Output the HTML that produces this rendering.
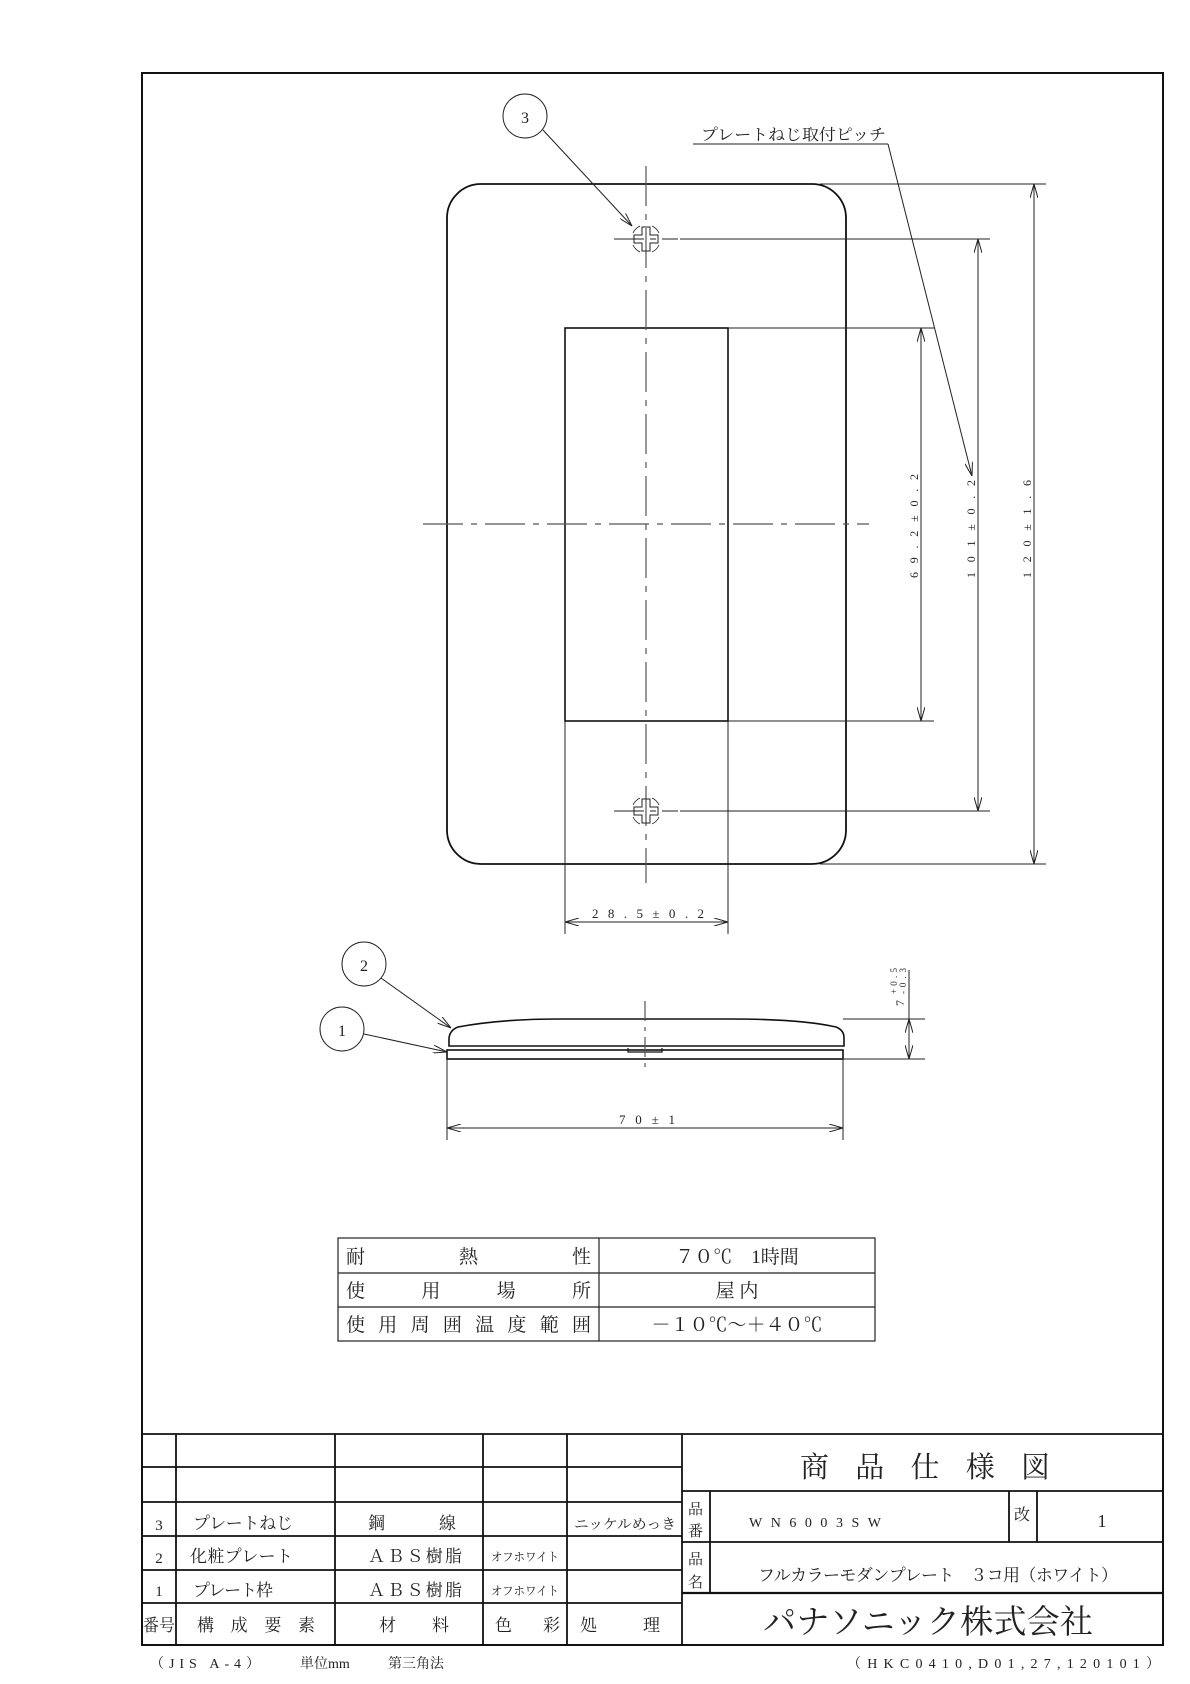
<!DOCTYPE html>
<html><head><meta charset="utf-8"><style>
html,body{margin:0;padding:0;background:#fff}
svg{display:block}
text{font-family:"Liberation Serif","Noto Serif CJK SC","Noto Sans CJK JP",serif;fill:#222}
</style></head><body>
<svg width="1190" height="1684" viewBox="0 0 1190 1684" xmlns="http://www.w3.org/2000/svg">
<defs>
<marker id="a" viewBox="0 0 14 8" refX="14" refY="4" markerWidth="14" markerHeight="8" markerUnits="userSpaceOnUse" orient="auto"><path d="M0,0 L14,4 L0,8" fill="none" stroke="#222" stroke-width="1"/></marker>
<marker id="s" viewBox="0 0 14 8" refX="0" refY="4" markerWidth="14" markerHeight="8" markerUnits="userSpaceOnUse" orient="auto"><path d="M14,0 L0,4 L14,8" fill="none" stroke="#222" stroke-width="1"/></marker>
<g id="screw" fill="none" stroke="#222" stroke-width="1">
<path d="M-4,-12 H4 V-4 H12 V4 H4 V12 H-4 V4 H-12 V-4 H-4 Z"/>
<path d="M-13,-6 A14,14 0 0 1 -6,-13 M6,-13 A14,14 0 0 1 13,-6 M13,6 A14,14 0 0 1 6,13 M-6,13 A14,14 0 0 1 -13,6" stroke-width="0.8"/>
</g>
</defs>
<rect x="142" y="73" width="1021" height="1572" fill="none" stroke="#111" stroke-width="2"/>

<g fill="none" stroke="#111">
<rect x="447" y="184" width="399" height="680" rx="34" ry="34" stroke-width="1.8"/>
<rect x="565" y="328" width="163" height="393" stroke-width="1.6"/>
</g>
<g stroke="#555" stroke-width="1.2" stroke-dasharray="40,8,6,8">
<line x1="646" y1="166" x2="646" y2="883"/>
<line x1="423" y1="524" x2="869" y2="524"/>
</g>
<use href="#screw" x="646" y="239"/>
<use href="#screw" x="646" y="811"/>
<g stroke="#222" stroke-width="1" fill="none">
<line x1="614" y1="239" x2="678" y2="239" stroke-dasharray="30,6,6,6"/>
<line x1="614" y1="811" x2="678" y2="811" stroke-dasharray="30,6,6,6"/>
<line x1="728" y1="328" x2="934" y2="328"/>
<line x1="728" y1="721" x2="934" y2="721"/>
<line x1="680" y1="239" x2="990" y2="239"/>
<line x1="680" y1="811" x2="990" y2="811"/>
<line x1="820" y1="184" x2="1046" y2="184"/>
<line x1="820" y1="864" x2="1046" y2="864"/>
<line x1="921" y1="328" x2="921" y2="721" marker-start="url(#s)" marker-end="url(#a)"/>
<line x1="978" y1="239" x2="978" y2="811" marker-start="url(#s)" marker-end="url(#a)"/>
<line x1="1034" y1="184" x2="1034" y2="864" marker-start="url(#s)" marker-end="url(#a)"/>
<line x1="565" y1="721" x2="565" y2="934"/>
<line x1="728" y1="721" x2="728" y2="934"/>
<line x1="565" y1="922" x2="728" y2="922" marker-start="url(#s)" marker-end="url(#a)"/>
<circle cx="525" cy="116" r="22"/>
<line x1="543" y1="130" x2="632" y2="226" marker-end="url(#a)"/>
<line x1="693" y1="144" x2="888" y2="144"/>
<line x1="888" y1="144" x2="972" y2="476" marker-end="url(#a)"/>
</g>
<text x="701" y="140" font-size="16" textLength="185" lengthAdjust="spacingAndGlyphs">プレートねじ取付ピッチ</text>
<text transform="translate(918,578) rotate(-90)" font-size="12" textLength="104" lengthAdjust="spacing">69.2±0.2</text>
<text transform="translate(975,578) rotate(-90)" font-size="12" textLength="98" lengthAdjust="spacing">101±0.2</text>
<text transform="translate(1031,578) rotate(-90)" font-size="12" textLength="98" lengthAdjust="spacing">120±1.6</text>
<text x="592" y="918" font-size="13" textLength="112" lengthAdjust="spacing">28.5±0.2</text>
<text x="525" y="123" font-size="16" text-anchor="middle">3</text>

<g fill="none" stroke="#111" stroke-width="1.6">
<path d="M449,1046 L449,1038 Q450,1030 458,1027 Q500,1019 560,1019 L730,1019 Q800,1019 836,1027 Q844,1030 844,1038 L844,1046 Z"/>
<rect x="447" y="1050" width="396" height="9"/>
<path d="M628,1048 V1052 H662 V1048" stroke-width="1.2"/>
</g>
<line x1="645" y1="1001" x2="645" y2="1068" stroke="#555" stroke-width="1.2" stroke-dasharray="20,6,4,6"/>
<g stroke="#222" stroke-width="1" fill="none">
<line x1="843" y1="1019" x2="925" y2="1019"/>
<line x1="843" y1="1059" x2="925" y2="1059"/>
<line x1="909" y1="970" x2="909" y2="1059"/>
<line x1="909" y1="1019" x2="909" y2="1059" marker-start="url(#s)" marker-end="url(#a)"/>
<line x1="447" y1="1059" x2="447" y2="1140"/>
<line x1="843" y1="1059" x2="843" y2="1140"/>
<line x1="447" y1="1128" x2="843" y2="1128" marker-start="url(#s)" marker-end="url(#a)"/>
<circle cx="364" cy="964" r="22"/>
<line x1="381" y1="978" x2="451" y2="1028" marker-end="url(#a)"/>
<circle cx="342" cy="1029" r="22"/>
<line x1="364" y1="1034" x2="447" y2="1052" marker-end="url(#a)"/>
</g>
<text x="364" y="971" font-size="16" text-anchor="middle">2</text>
<text x="342" y="1036" font-size="16" text-anchor="middle">1</text>
<text transform="translate(904,1006) rotate(-90)" font-size="12">7</text>
<text transform="translate(897,994) rotate(-90)" font-size="9" textLength="26" lengthAdjust="spacing">+0.5</text>
<text transform="translate(906,994) rotate(-90)" font-size="9" textLength="26" lengthAdjust="spacing">-0.3</text>
<text x="619" y="1124" font-size="13" textLength="56" lengthAdjust="spacing">70±1</text>

<g fill="none" stroke="#222" stroke-width="1.2">
<rect x="338" y="1238" width="537" height="103"/>
<line x1="338" y1="1273" x2="875" y2="1273"/>
<line x1="338" y1="1307" x2="875" y2="1307"/>
<line x1="599" y1="1238" x2="599" y2="1341"/>
</g>
<g font-size="19">
<text x="346" y="1263" textLength="245" lengthAdjust="spacing">耐熱性</text>
<text x="346" y="1297" textLength="245" lengthAdjust="spacing">使用場所</text>
<text x="346" y="1331" textLength="245" lengthAdjust="spacing">使用周囲温度範囲</text>
<text x="737" y="1263" text-anchor="middle">７０℃　1時間</text>
<text x="737" y="1297" text-anchor="middle">屋 内</text>
<text x="737" y="1331" text-anchor="middle">－１０℃～＋４０℃</text>
</g>

<g fill="none" stroke="#111" stroke-width="1.8">
<line x1="142" y1="1434" x2="1163" y2="1434"/>
<line x1="142" y1="1467" x2="682" y2="1467"/>
<line x1="142" y1="1502" x2="682" y2="1502"/>
<line x1="142" y1="1536" x2="682" y2="1536"/>
<line x1="142" y1="1570" x2="682" y2="1570"/>
<line x1="142" y1="1603" x2="682" y2="1603"/>
<line x1="176" y1="1434" x2="176" y2="1645"/>
<line x1="335" y1="1434" x2="335" y2="1645"/>
<line x1="483" y1="1434" x2="483" y2="1645"/>
<line x1="567" y1="1434" x2="567" y2="1645"/>
<line x1="682" y1="1434" x2="682" y2="1645"/>
<line x1="682" y1="1491" x2="1163" y2="1491"/>
<line x1="682" y1="1542" x2="1163" y2="1542"/>
<line x1="682" y1="1593" x2="1163" y2="1593" stroke-width="2.2"/>
<line x1="710" y1="1491" x2="710" y2="1593"/>
<line x1="1009" y1="1491" x2="1009" y2="1542"/>
<line x1="1037" y1="1491" x2="1037" y2="1542"/>
</g>
<g font-size="17">
<text x="159" y="1530" text-anchor="middle" font-size="15">3</text>
<text x="159" y="1563" text-anchor="middle" font-size="15">2</text>
<text x="159" y="1596" text-anchor="middle" font-size="15">1</text>
<text x="193" y="1529" textLength="100" lengthAdjust="spacing">プレートねじ</text>
<text x="190" y="1562" textLength="103" lengthAdjust="spacing">化粧プレート</text>
<text x="193" y="1596" textLength="80" lengthAdjust="spacing">プレート枠</text>
<text x="368" y="1529" textLength="88" lengthAdjust="spacing">鋼線</text>
<text x="368" y="1562" textLength="94" lengthAdjust="spacing">ＡＢＳ樹脂</text>
<text x="368" y="1596" textLength="94" lengthAdjust="spacing">ＡＢＳ樹脂</text>
<text x="491" y="1561" font-size="12" textLength="68" lengthAdjust="spacingAndGlyphs">オフホワイト</text>
<text x="491" y="1595" font-size="12" textLength="68" lengthAdjust="spacingAndGlyphs">オフホワイト</text>
<text x="574" y="1529" font-size="14" textLength="102" lengthAdjust="spacingAndGlyphs">ニッケルめっき</text>
<text x="143" y="1631" textLength="32" lengthAdjust="spacingAndGlyphs">番号</text>
<text x="197" y="1631" textLength="118" lengthAdjust="spacing">構成要素</text>
<text x="379" y="1631" textLength="70" lengthAdjust="spacing">材料</text>
<text x="495" y="1631" textLength="65" lengthAdjust="spacing">色彩</text>
<text x="580" y="1631" textLength="80" lengthAdjust="spacing">処理</text>
<text x="688" y="1514" font-size="15">品</text>
<text x="688" y="1536" font-size="15">番</text>
<text x="688" y="1564" font-size="15">品</text>
<text x="688" y="1587" font-size="15">名</text>
<text x="749" y="1527" font-size="14" textLength="132" lengthAdjust="spacing">WN6003SW</text>
<text x="1014" y="1520" font-size="16">改</text>
<text x="1102" y="1527" font-size="18" text-anchor="middle">1</text>
<text x="758" y="1581" font-size="17" textLength="360" lengthAdjust="spacing">フルカラーモダンプレート　３コ用（ホワイト）</text>
</g>
<text x="800" y="1477" font-size="29" textLength="250" lengthAdjust="spacing">商品仕様図</text>
<text x="763" y="1633" font-size="33" textLength="330" lengthAdjust="spacing">パナソニック株式会社</text>
<g font-size="14">
<text x="150" y="1668" textLength="110" lengthAdjust="spacing">（JIS A-4）</text>
<text x="300" y="1668">単位mm</text>
<text x="388" y="1668">第三角法</text>
<text x="847" y="1668" textLength="313" lengthAdjust="spacing">（HKC0410,D01,27,120101）</text>
</g>
</svg>
</body></html>
